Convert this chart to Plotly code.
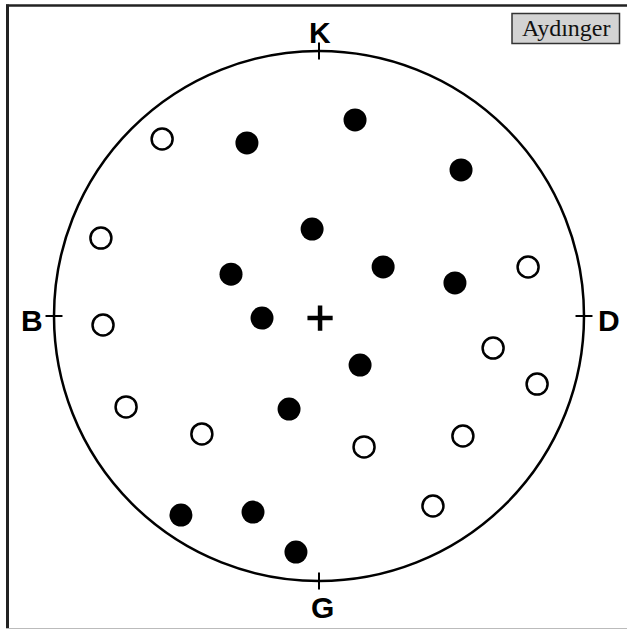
import plotly.graph_objects as go

# Projection-plane coordinates (unit primitive circle)
filled_x = [-0.272, 0.136, 0.536, -0.026, -0.332, 0.242, 0.513, -0.215, 0.155, -0.113, -0.521, -0.249, -0.087]
filled_y = [0.653, 0.740, 0.551, 0.328, 0.158, 0.185, 0.125, -0.008, -0.185, -0.351, -0.751, -0.740, -0.891]

open_x = [-0.592, -0.823, -0.815, 0.789, 0.657, 0.823, -0.728, -0.442, 0.170, 0.543, 0.430]
open_y = [0.668, 0.294, -0.034, 0.185, -0.121, -0.257, -0.343, -0.445, -0.494, -0.453, -0.717]

# Cardinal direction labels (K=north, D=east, G=south, B=west)
dir_labels = ["K", "D", "G", "B"]
dir_x = [0.0, 1.0, 0.0, -1.0]
dir_y = [1.0, 0.0, -1.0, 0.0]

title_text = "Aydınger"

W, H = 627, 630
cx_px, cy_px, r_px = 319, 316, 265

fig = go.Figure()

fig.add_trace(go.Scatter(
    x=open_x, y=open_y, mode="markers",
    marker=dict(size=21, color="white", line=dict(color="black", width=2.5)),
    hoverinfo="skip", showlegend=False))

fig.add_trace(go.Scatter(
    x=filled_x, y=filled_y, mode="markers",
    marker=dict(size=23, color="black", line=dict(width=0)),
    hoverinfo="skip", showlegend=False))

# centre cross
fig.add_trace(go.Scatter(
    x=[0.004], y=[-0.008], mode="markers",
    marker=dict(symbol="cross-thin", size=18, line=dict(color="black", width=4.5)),
    hoverinfo="skip", showlegend=False))

shapes = [dict(type="circle", xref="x", yref="y", x0=-1, y0=-1, x1=1, y1=1,
               line=dict(color="black", width=2.5))]

tick = 0.032
for dx, dy in zip(dir_x, dir_y):
    if dx == 0:
        shapes.append(dict(type="line", xref="x", yref="y", x0=0, x1=0,
                           y0=dy - tick, y1=dy + tick, line=dict(color="black", width=2)))
    else:
        shapes.append(dict(type="line", xref="x", yref="y", y0=0, y1=0,
                           x0=dx - tick, x1=dx + tick, line=dict(color="black", width=2)))

# outer frame
def px_x(p):
    return p / W

def px_y(p):
    return 1 - p / H

shapes.append(dict(type="line", xref="paper", yref="paper", x0=px_x(6), x1=1.0,
                   y0=px_y(5.5), y1=px_y(5.5), line=dict(color="#222222", width=2.5)))
shapes.append(dict(type="line", xref="paper", yref="paper", x0=px_x(7.5), x1=px_x(7.5),
                   y0=px_y(4.5), y1=px_y(629), line=dict(color="#222222", width=3)))
shapes.append(dict(type="line", xref="paper", yref="paper", x0=px_x(6), x1=1.0,
                   y0=px_y(628.5), y1=px_y(628.5), line=dict(color="#bbbbbb", width=1)))

# title box
shapes.append(dict(type="rect", xref="paper", yref="paper", x0=px_x(512), x1=px_x(619.5),
                   y0=px_y(43.5), y1=px_y(13.5), fillcolor="#d3d3d3",
                   line=dict(color="#333333", width=1.5), layer="below"))

annotations = [dict(text=title_text, xref="paper", yref="paper", x=px_x(566), y=px_y(28.5),
                    showarrow=False, xanchor="center", yanchor="middle",
                    font=dict(family="Liberation Serif", size=24, color="#111111"))]

label_pos = {"K": (320, 32), "D": (609, 320), "G": (322, 607), "B": (32, 320)}
for lab in dir_labels:
    px, py = label_pos[lab]
    annotations.append(dict(text="<b>%s</b>" % lab, xref="paper", yref="paper",
                            x=px_x(px), y=px_y(py), showarrow=False,
                            xanchor="center", yanchor="middle",
                            font=dict(family="Liberation Sans", size=30, color="black")))

fig.update_layout(
    width=W, height=H,
    margin=dict(l=0, r=0, t=0, b=0),
    paper_bgcolor="white", plot_bgcolor="white",
    xaxis=dict(range=[-cx_px / r_px, (W - cx_px) / r_px], visible=False, fixedrange=True),
    yaxis=dict(range=[(cy_px - H) / r_px, cy_px / r_px], visible=False, fixedrange=True),
    shapes=shapes, annotations=annotations, showlegend=False,
)

fig.write_html("out.html")
